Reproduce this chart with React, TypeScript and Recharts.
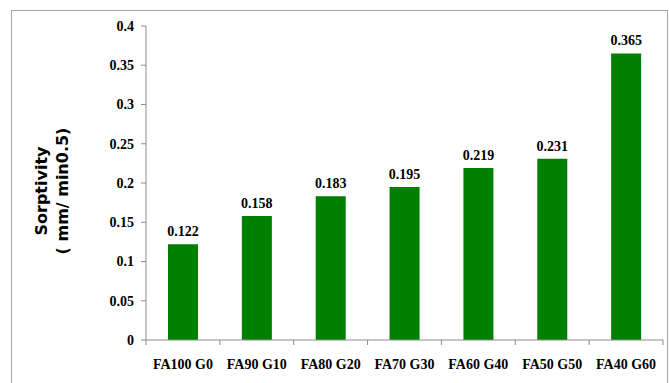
import React from 'react';
import { BarChart, Bar, XAxis, YAxis, LabelList } from 'recharts';

const mixes = ['FA100 G0', 'FA90 G10', 'FA80 G20', 'FA70 G30', 'FA60 G40', 'FA50 G50', 'FA40 G60'];
const sorptivity = [0.122, 0.158, 0.183, 0.195, 0.219, 0.231, 0.365];
const yTicks = [0, 0.05, 0.1, 0.15, 0.2, 0.25, 0.3, 0.35, 0.4];

const serif = '"Liberation Serif", "Times New Roman", serif';
const axisGray = '#8c8c8c';

const data = mixes.map((mix, i) => ({ mix, value: sorptivity[i] }));

// category ticks: label under the bar, tick mark on the category edges
const MixTick = (props: any) => {
  const { x, y, payload, index } = props;
  const half = payload && payload.offset ? payload.offset : 37;
  return (
    <g>
      <line x1={x - half} x2={x - half} y1={y - 8} y2={y - 3} stroke={axisGray} />
      {index === mixes.length - 1 && (
        <line x1={x + half} x2={x + half} y1={y - 8} y2={y - 3} stroke={axisGray} />
      )}
      <text x={x} y={y + 21} textAnchor="middle" fontFamily={serif} fontWeight="bold" fontSize={14} fill="#000">
        {payload.value}
      </text>
    </g>
  );
};

const AxisTitle = (props: any) => {
  const vb = props.viewBox || {};
  const cy = vb.y + vb.height / 2 + 8;
  return (
    <g fontFamily='"DejaVu Sans", Verdana, sans-serif' fontWeight="bold" fontSize={16} fill="#000">
      <text x={0} y={0} textAnchor="middle" transform={`translate(47, ${cy}) rotate(-90)`}>
        Sorptivity
      </text>
      <text x={0} y={0} textAnchor="middle" transform={`translate(68, ${cy}) rotate(-90)`}>
        ( mm/ min0.5)
      </text>
    </g>
  );
};

export default function App() {
  return (
    <div style={{ position: 'absolute', left: 0, top: 0, width: 669, height: 383, overflow: 'hidden', background: '#fff' }}>
      <div
        style={{
          position: 'absolute',
          left: 11,
          top: 10,
          width: 657,
          height: 400,
          border: '1px solid #a6a6a6',
          boxSizing: 'border-box',
        }}
      />
      <BarChart
        width={669}
        height={383}
        data={data}
        margin={{ top: 26, right: 6, bottom: 0, left: 86 }}
        style={{ position: 'absolute', left: 0, top: 0 }}
      >
        <XAxis
          dataKey="mix"
          height={43}
          axisLine={{ stroke: axisGray }}
          tickLine={false}
          tick={<MixTick />}
          interval={0}
        />
        <YAxis
          width={60}
          domain={[0, 0.4]}
          ticks={yTicks}
          interval={0}
          axisLine={{ stroke: axisGray }}
          tickLine={{ stroke: axisGray }}
          tickSize={5}
          tickMargin={7}
          tick={{ fontFamily: serif, fontWeight: 'bold', fontSize: 14, fill: '#000' }}
          label={<AxisTitle />}
        />
        <Bar dataKey="value" fill="#008000" barSize={30} isAnimationActive={false}>
          <LabelList
            dataKey="value"
            position="top"
            offset={8}
            style={{ fontFamily: serif, fontWeight: 'bold', fontSize: 14, fill: '#000' }}
          />
        </Bar>
      </BarChart>
    </div>
  );
}
